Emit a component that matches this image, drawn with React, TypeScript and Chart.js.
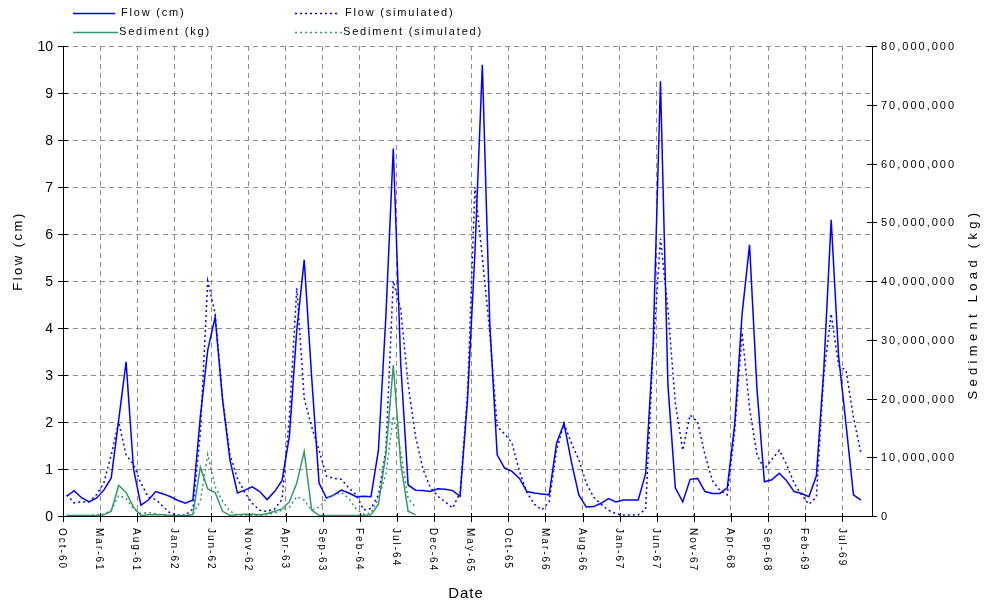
import React, { useEffect, useRef } from 'react';
import { Chart, registerables } from 'chart.js';

Chart.register(...registerables);

// Tick labels on the date axis (every 5 months, starting Oct-60)
const tickLabels = [
  'Oct-60', 'Mar-61', 'Aug-61', 'Jan-62', 'Jun-62', 'Nov-62', 'Apr-63', 'Sep-63',
  'Feb-64', 'Jul-64', 'Dec-64', 'May-65', 'Oct-65', 'Mar-66', 'Aug-66', 'Jan-67',
  'Jun-67', 'Nov-67', 'Apr-68', 'Sep-68', 'Feb-69', 'Jul-69',
];

// Monthly values, index 0 = Oct-60
const flowObserved = [
  0.42, 0.54, 0.39, 0.30, 0.38, 0.55, 0.81, 2.04, 3.28, 1.00,
  0.23, 0.34, 0.52, 0.47, 0.41, 0.33, 0.27, 0.34, 2.11, 3.53,
  4.23, 2.47, 1.19, 0.49, 0.55, 0.62, 0.52, 0.35, 0.52, 0.75,
  1.69, 3.96, 5.45, 2.96, 0.70, 0.38, 0.45, 0.55, 0.49, 0.41,
  0.42, 0.41, 1.40, 4.24, 7.82, 3.25, 0.66, 0.55, 0.54, 0.52,
  0.58, 0.57, 0.54, 0.42, 2.47, 5.60, 9.60, 4.10, 1.30, 1.02,
  0.95, 0.80, 0.52, 0.49, 0.47, 0.45, 1.55, 1.97, 1.15, 0.45,
  0.19, 0.20, 0.27, 0.37, 0.30, 0.34, 0.34, 0.34, 0.90, 3.60,
  9.25, 2.80, 0.60, 0.30, 0.78, 0.80, 0.52, 0.48, 0.48, 0.60,
  1.95, 4.30, 5.77, 2.70, 0.73, 0.77, 0.91, 0.75, 0.52, 0.48,
  0.41, 0.85, 3.10, 6.30, 3.40, 1.95, 0.45, 0.34,
];

const flowSimulated = [
  0.45, 0.28, 0.30, 0.30, 0.45, 0.70, 1.30, 2.00, 1.30, 1.10,
  0.70, 0.40, 0.35, 0.20, 0.05, 0.02, 0.02, 0.15, 1.76, 5.00,
  4.30, 2.50, 1.30, 0.80, 0.50, 0.27, 0.12, 0.10, 0.15, 0.35,
  2.10, 4.85, 2.50, 1.90, 1.40, 0.85, 0.80, 0.78, 0.60, 0.45,
  0.13, 0.16, 0.45, 1.40, 5.00, 4.40, 2.80, 1.69, 1.00, 0.60,
  0.42, 0.30, 0.17, 0.50, 2.60, 7.00, 5.50, 3.90, 1.90, 1.75,
  1.55, 0.95, 0.50, 0.25, 0.13, 0.30, 1.40, 1.97, 1.55, 1.20,
  0.70, 0.40, 0.25, 0.12, 0.05, 0.02, 0.02, 0.02, 0.15, 3.50,
  5.90, 4.40, 2.40, 1.40, 2.15, 2.00, 1.30, 0.75, 0.55, 0.45,
  1.80, 3.90, 2.30, 1.30, 1.00, 1.20, 1.40, 1.10, 0.70, 0.45,
  0.25, 0.40, 3.00, 4.30, 3.20, 3.10, 2.10, 1.35,
];

// Sediment load in millions of kg
const sedimentObservedMkg = [
  0.1, 0.1, 0.1, 0.1, 0.1, 0.2, 0.8, 5.2, 4.0, 1.5,
  0.1, 0.2, 0.2, 0.2, 0.1, 0.1, 0.1, 0.2, 8.3, 4.6,
  4.0, 0.8, 0.1, 0.2, 0.3, 0.3, 0.2, 0.4, 0.8, 1.2,
  2.4, 5.6, 11.0, 1.0, 0.1, 0.1, 0.1, 0.1, 0.1, 0.1,
  0.1, 0.2, 2.0, 10.5, 25.7, 9.0, 0.8, 0.2,
];

const sedimentSimulatedMkg = [
  0.1, 0.1, 0.1, 0.1, 0.2, 0.3, 1.0, 3.5, 3.0, 1.2,
  0.4, 0.6, 0.4, 0.1, 0.0, 0.0, 0.0, 0.3, 2.5, 10.5,
  5.0, 2.5, 0.8, 0.2, 0.1, 0.1, 0.1, 0.2, 0.5, 1.0,
  1.5, 3.3, 2.7, 1.0, 1.5, 3.0, 3.5, 4.0, 3.0, 1.2,
  0.3, 0.5, 3.0, 7.0, 17.0, 11.0, 3.0, 1.5,
];

const MONTHS_ON_AXIS = 109;
const TICK_EVERY = 5;

const FONT = '"Liberation Sans", Arial, Helvetica, sans-serif';
const BLUE = '#0000FF';
const GREEN = '#339966';
const GRID = '#8c8c8c';
const DOT = [2, 3];

const toPoints = (arr: number[], scale = 1) => arr.map((v, i) => ({ x: i, y: v * scale }));

function txt(ctx: any, s: string, x: number, y: number, size: number, spacing: number, align: string, rot = 0) {
  ctx.save();
  ctx.translate(x, y);
  if (rot) ctx.rotate(rot);
  ctx.font = `${size}px ${FONT}`;
  try { ctx.letterSpacing = `${spacing}px`; } catch (e) { /* ignore */ }
  ctx.textAlign = align;
  ctx.textBaseline = 'middle';
  ctx.fillStyle = '#000';
  ctx.fillText(s, 0, 0);
  ctx.restore();
}

const overlay = {
  id: 'overlay',
  afterDraw(chart: any) {
    const { ctx, chartArea: a, scales } = chart;
    const xs = scales.x, ys = scales.y, ys2 = scales.y2;
    ctx.save();
    // crossing tick marks
    ctx.strokeStyle = '#000';
    ctx.lineWidth = 1;
    ctx.setLineDash([]);
    ctx.beginPath();
    for (const t of ys.ticks) {
      const p = Math.round(ys.getPixelForValue(t.value)) + 0.5;
      ctx.moveTo(a.left - 5, p); ctx.lineTo(a.left + 5, p);
    }
    for (const t of ys2.ticks) {
      const p = Math.round(ys2.getPixelForValue(t.value)) + 0.5;
      ctx.moveTo(a.right - 5, p); ctx.lineTo(a.right + 5, p);
    }
    for (const t of xs.ticks) {
      const p = Math.round(xs.getPixelForValue(t.value)) + 0.5;
      ctx.moveTo(p, a.bottom - 3); ctx.lineTo(p, a.bottom + 6);
    }
    ctx.stroke();

    // left tick labels
    for (const t of ys.ticks) {
      txt(ctx, String(t.value), a.left - 10, ys.getPixelForValue(t.value) + 1, 14, 0, 'right');
    }
    // right tick labels
    for (const t of ys2.ticks) {
      txt(ctx, Number(t.value).toLocaleString('en-US'), a.right + 9, ys2.getPixelForValue(t.value) + 1, 11, 2, 'left');
    }
    // x tick labels, rotated to read top-down
    xs.ticks.forEach((t: any, k: number) => {
      const p = xs.getPixelForValue(t.value);
      txt(ctx, tickLabels[k], p - 1, a.bottom + 12, 10, 2, 'left', Math.PI / 2);
    });

    // axis titles
    txt(ctx, 'Flow (cm)', 18, 251, 13, 2.5, 'center', -Math.PI / 2);
    txt(ctx, 'Sediment Load (kg)', 973, 304, 13, 4.3, 'center', -Math.PI / 2);
    txt(ctx, 'Date', 466, 594, 15, 1, 'center');

    // legend
    const sample = (x1: number, x2: number, y: number, color: string, dash: number[]) => {
      ctx.save();
      ctx.strokeStyle = color;
      ctx.lineWidth = 1.5;
      ctx.setLineDash(dash);
      ctx.beginPath();
      ctx.moveTo(x1, y); ctx.lineTo(x2, y);
      ctx.stroke();
      ctx.restore();
    };
    sample(73, 115, 13.5, BLUE, []);
    txt(ctx, 'Flow (cm)', 121, 13, 11, 1.8, 'left');
    sample(295, 337, 13.5, BLUE, DOT);
    txt(ctx, 'Flow (simulated)', 345, 13, 11, 1.8, 'left');
    sample(73, 118, 32.5, GREEN, []);
    txt(ctx, 'Sediment (kg)', 119, 32, 11, 1.8, 'left');
    sample(295, 342, 32.5, GREEN, DOT);
    txt(ctx, 'Sediment (simulated)', 343, 32, 11, 1.8, 'left');
    ctx.restore();
  },
};

export default function App() {
  const ref = useRef<HTMLCanvasElement | null>(null);

  useEffect(() => {
    if (!ref.current) return;
    const chart = new Chart(ref.current, {
      type: 'line',
      data: {
        datasets: [
          {
            label: 'Flow (cm)',
            data: toPoints(flowObserved),
            borderColor: BLUE,
            borderWidth: 1.5,
            pointRadius: 0,
            tension: 0,
            yAxisID: 'y',
            order: 2,
          },
          {
            label: 'Flow (simulated)',
            data: toPoints(flowSimulated),
            borderColor: BLUE,
            borderWidth: 1.5,
            borderDash: DOT,
            pointRadius: 0,
            tension: 0,
            yAxisID: 'y',
            order: 3,
          },
          {
            label: 'Sediment (kg)',
            data: toPoints(sedimentObservedMkg, 1e6),
            borderColor: GREEN,
            borderWidth: 1.5,
            pointRadius: 0,
            tension: 0,
            yAxisID: 'y2',
            order: 0,
          },
          {
            label: 'Sediment (simulated)',
            data: toPoints(sedimentSimulatedMkg, 1e6),
            borderColor: GREEN,
            borderWidth: 1.5,
            borderDash: DOT,
            pointRadius: 0,
            tension: 0,
            yAxisID: 'y2',
            order: 1,
          },
        ],
      },
      options: {
        animation: false,
        responsive: false,
        devicePixelRatio: 1,
        layout: { padding: { top: 46, left: 0, right: 0, bottom: 0 } },
        plugins: {
          legend: { display: false },
          title: { display: false },
          tooltip: { enabled: false },
        },
        scales: {
          x: {
            type: 'linear',
            position: 'bottom',
            min: -0.5,
            max: MONTHS_ON_AXIS - 0.5,
            afterBuildTicks: (axis: any) => {
              axis.ticks = tickLabels.map((_, k) => ({ value: -0.5 + TICK_EVERY * k }));
            },
            afterFit: (axis: any) => { axis.height = 90; },
            ticks: { display: false },
            grid: { display: true, color: GRID, lineWidth: 1, drawTicks: false },
            border: { display: true, color: '#000', width: 1, dash: [5, 4] },
          },
          y: {
            type: 'linear',
            position: 'left',
            min: 0,
            max: 10,
            ticks: { display: false, stepSize: 1 },
            afterFit: (axis: any) => { axis.width = 63; },
            grid: { display: true, color: GRID, lineWidth: 1, drawTicks: false },
            border: { display: true, color: '#000', width: 1, dash: [5, 4] },
          },
          y2: {
            type: 'linear',
            position: 'right',
            min: 0,
            max: 80000000,
            ticks: { display: false, stepSize: 10000000 },
            afterFit: (axis: any) => { axis.width = 112; },
            grid: { display: false, drawOnChartArea: false, drawTicks: false },
            border: { display: true, color: '#000', width: 1 },
          },
        },
      },
      plugins: [overlay],
    } as any);
    return () => chart.destroy();
  }, []);

  return (
    <div style={{ position: 'fixed', left: 0, top: 0, width: 984, height: 606, background: '#fff' }}>
      <canvas ref={ref} width={984} height={606} style={{ display: 'block', width: 984, height: 606 }} />
    </div>
  );
}
